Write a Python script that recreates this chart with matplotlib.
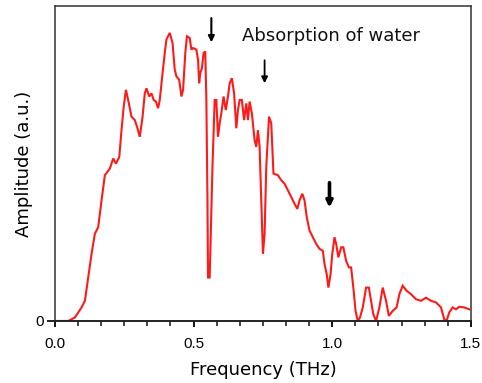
import matplotlib
matplotlib.use("Agg")
import matplotlib.pyplot as plt
from matplotlib.ticker import MultipleLocator, FixedLocator

# Frequency (THz) and amplitude (a.u., normalised)
freq = [0.000, 0.048, 0.072, 0.096, 0.108, 0.120, 0.132, 0.144, 0.156, 0.168,
        0.180, 0.198, 0.210, 0.220, 0.232, 0.240, 0.248, 0.256, 0.264, 0.276,
        0.288, 0.296, 0.306, 0.316, 0.324, 0.330, 0.340, 0.348, 0.356, 0.364,
        0.372, 0.378, 0.388, 0.396, 0.402, 0.414, 0.424, 0.432, 0.438, 0.448,
        0.456, 0.462, 0.470, 0.476, 0.486, 0.492, 0.498, 0.510, 0.516, 0.520,
        0.524, 0.530, 0.536, 0.542, 0.546, 0.550, 0.552, 0.558, 0.562, 0.568,
        0.576, 0.582, 0.588, 0.594, 0.600, 0.608, 0.616, 0.624, 0.630, 0.638,
        0.646, 0.654, 0.660, 0.666, 0.674, 0.682, 0.690, 0.696, 0.702, 0.710,
        0.720, 0.726, 0.732, 0.738, 0.744, 0.750, 0.756, 0.762, 0.772, 0.780,
        0.788, 0.804, 0.816, 0.828, 0.840, 0.852, 0.864, 0.874, 0.882, 0.892,
        0.900, 0.908, 0.918, 0.930, 0.942, 0.954, 0.966, 0.972, 0.980, 0.986,
        0.994, 1.000, 1.008, 1.014, 1.022, 1.032, 1.040, 1.050, 1.060, 1.068,
        1.076, 1.084, 1.092, 1.100, 1.110, 1.122, 1.132, 1.140, 1.148, 1.158,
        1.170, 1.182, 1.194, 1.204, 1.218, 1.232, 1.242, 1.254, 1.268, 1.284,
        1.302, 1.320, 1.338, 1.356, 1.374, 1.392, 1.404, 1.412, 1.422, 1.434,
        1.446, 1.458, 1.476, 1.494]
amplitude = [0.000, 0.000, 0.011, 0.043, 0.064, 0.138, 0.213, 0.277, 0.298, 0.383,
             0.463, 0.484, 0.516, 0.500, 0.521, 0.606, 0.681, 0.734, 0.702, 0.649,
             0.638, 0.617, 0.585, 0.649, 0.723, 0.739, 0.713, 0.723, 0.702, 0.697,
             0.676, 0.702, 0.787, 0.851, 0.894, 0.915, 0.883, 0.798, 0.777, 0.766,
             0.713, 0.734, 0.851, 0.904, 0.899, 0.862, 0.867, 0.862, 0.830, 0.755,
             0.787, 0.803, 0.851, 0.856, 0.702, 0.383, 0.138, 0.138, 0.277, 0.489,
             0.702, 0.702, 0.585, 0.628, 0.660, 0.713, 0.670, 0.713, 0.755, 0.771,
             0.723, 0.612, 0.670, 0.702, 0.702, 0.638, 0.691, 0.638, 0.697, 0.660,
             0.574, 0.553, 0.606, 0.553, 0.383, 0.213, 0.277, 0.489, 0.649, 0.628,
             0.468, 0.463, 0.447, 0.436, 0.415, 0.394, 0.372, 0.356, 0.383, 0.404,
             0.383, 0.330, 0.287, 0.266, 0.245, 0.229, 0.223, 0.181, 0.149, 0.106,
             0.149, 0.213, 0.266, 0.245, 0.202, 0.234, 0.234, 0.191, 0.170, 0.170,
             0.106, 0.032, 0.000, 0.011, 0.043, 0.106, 0.106, 0.064, 0.021, 0.000,
             0.043, 0.106, 0.064, 0.016, 0.032, 0.043, 0.085, 0.112, 0.096, 0.085,
             0.069, 0.064, 0.074, 0.064, 0.059, 0.043, 0.005, 0.000, 0.027, 0.043,
             0.037, 0.045, 0.043, 0.037]

# Water absorption lines marked with arrows (THz)
absorption_lines = [0.564, 0.756, 0.990]
x_ticks = [0.0, 0.5, 1.0, 1.5]
x_tick_labels = ["0.0", "0.5", "1.0", "1.5"]
y_ticks = [0]
y_tick_labels = ["0"]

plt.rcParams['font.family'] = ['Liberation Sans', 'DejaVu Sans']

fig = plt.figure(figsize=(4.82, 3.83), dpi=100)
ax = fig.add_axes([0.114, 0.162, 0.863, 0.822])

ax.plot(freq, amplitude, color='#ff1a1a', lw=1.5, solid_joinstyle='miter')

ax.set_xlim(0, 1.5)
ax.set_ylim(0, 1.0)

ax.xaxis.set_major_locator(FixedLocator(x_ticks))
ax.set_xticklabels(x_tick_labels)
ax.xaxis.set_minor_locator(MultipleLocator(0.5 / 6))
ax.yaxis.set_major_locator(FixedLocator(y_ticks))
ax.set_yticklabels(y_tick_labels)

ax.tick_params(axis='x', which='major', direction='out', length=4.5, width=1.3,
               labelsize=11, pad=7)
ax.tick_params(axis='x', which='minor', direction='out', length=3.5, width=1.2,
               color='#222222')
ax.tick_params(axis='y', which='major', direction='out', length=6, width=1.2,
               labelsize=11, pad=2)

for s in ax.spines.values():
    s.set_linewidth(1.1)
    s.set_color('#333333')
ax.spines['bottom'].set_linewidth(1.4)
ax.spines['bottom'].set_color('#222222')

label_font = ['DejaVu Sans']
ax.set_xlabel("Frequency (THz)", fontsize=13, labelpad=7, family=label_font)
ax.set_ylabel("Amplitude (a.u.)", fontsize=13, labelpad=2, family=label_font)

tails = [0.962, 0.828, 0.439]
tips = [0.885, 0.755, 0.360]
widths = [1.5, 1.3, 2.6]
for xl, yt, yh, w in zip(absorption_lines, tails, tips, widths):
    ax.annotate('', xy=(xl, yh), xytext=(xl, yt),
                arrowprops=dict(arrowstyle='-|>', color='black', lw=w,
                                mutation_scale=9, shrinkA=0, shrinkB=0))

ax.text(0.674, 0.904, "Absorption of water", fontsize=13, ha='left', va='center',
        color='#111111', family=label_font)

fig.savefig("out.png", dpi=100)
